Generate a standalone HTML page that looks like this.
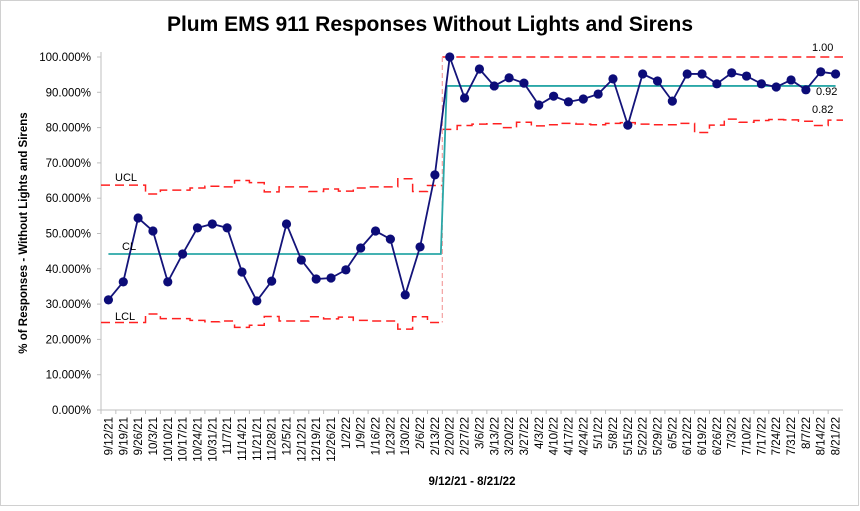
<!DOCTYPE html>
<html><head><meta charset="utf-8"><style>
body{margin:0;background:#fff;font-family:"Liberation Sans",Arial,sans-serif}
svg{display:block}
</style></head><body>
<svg id="chart" width="860" height="511" xmlns="http://www.w3.org/2000/svg">
<rect x="0.5" y="0.5" width="858" height="505" fill="#fff" stroke="#d0d0d0"/>
<text x="430" y="31" text-anchor="middle" font-size="21" font-weight="bold" fill="#000">Plum EMS 911 Responses Without Lights and Sirens</text>
<text transform="translate(27,233) rotate(-90)" text-anchor="middle" font-size="11.5" font-weight="bold">% of Responses - Without Lights and Sirens</text>
<text x="472" y="485" text-anchor="middle" font-size="11.5" font-weight="bold">9/12/21 - 8/21/22</text>
<g id="grid"></g><g id="limits"></g><g id="series"></g><g id="xlabels"></g>
<text x="115" y="181" font-size="11">UCL</text>
<text x="122" y="250" font-size="11">CL</text>
<text x="115" y="320" font-size="11">LCL</text>
<text x="812" y="51" font-size="11">1.00</text>
<text x="816" y="95" font-size="11">0.92</text>
<text x="812" y="113" font-size="11">0.82</text>
</svg>
<script>
const categories=["9/12/21","9/19/21","9/26/21","10/3/21","10/10/21","10/17/21","10/24/21","10/31/21","11/7/21","11/14/21","11/21/21","11/28/21","12/5/21","12/12/21","12/19/21","12/26/21","1/2/22","1/9/22","1/16/22","1/23/22","1/30/22","2/6/22","2/13/22","2/20/22","2/27/22","3/6/22","3/13/22","3/20/22","3/27/22","4/3/22","4/10/22","4/17/22","4/24/22","5/1/22","5/8/22","5/15/22","5/22/22","5/29/22","6/5/22","6/12/22","6/19/22","6/26/22","7/3/22","7/10/22","7/17/22","7/24/22","7/31/22","8/7/22","8/14/22","8/21/22"];
const values=[31.2,36.3,54.4,50.7,36.3,44.2,51.6,52.7,51.6,39.1,30.9,36.5,52.7,42.5,37.1,37.4,39.7,45.9,50.7,48.4,32.6,46.2,66.6,100,88.4,96.6,91.8,94.1,92.6,86.4,88.9,87.3,88.1,89.5,93.8,80.7,95.2,93.2,87.5,95.2,95.2,92.4,95.5,94.6,92.4,91.5,93.5,90.7,95.8,95.2];
const centerLine=[44.2,91.8];
const phaseStart=[0,23];
const ucl=[63.7,63.7,63.7,61.2,62.3,62.3,62.9,63.4,63.2,65.0,64.4,61.8,63.2,63.2,61.9,62.6,62.0,62.9,63.2,63.2,65.5,61.9,63.6,100,100,100,100,100,100,100,100,100,100,100,100,100,100,100,100,100,100,100,100,100,100,100,100,100,100,100];
const lcl=[24.8,24.8,24.8,27.2,25.9,25.9,25.4,25.0,25.2,23.4,24.0,26.5,25.2,25.2,26.4,25.8,26.3,25.4,25.2,25.2,22.9,26.4,24.8,79.5,80.6,81.0,81.1,80.0,81.5,80.5,80.8,81.2,81.0,80.8,81.2,81.4,81.0,80.8,80.8,81.2,78.6,80.7,82.4,81.5,82.0,82.3,82.2,81.8,80.6,82.1];
const yTicks=[0,10,20,30,40,50,60,70,80,90,100];

const NS="http://www.w3.org/2000/svg";
const X0=101,X1=843,Y0=410,Y100=57;
const band=(X1-X0)/categories.length;
const xs=i=>X0+band*(i+0.5);
const ys=v=>Y0-(v/100)*(Y0-Y100);
function mk(tag,attrs,parent){const e=document.createElementNS(NS,tag);for(const k in attrs)e.setAttribute(k,attrs[k]);parent.appendChild(e);return e;}
const grid=document.getElementById('grid'),lim=document.getElementById('limits'),ser=document.getElementById('series'),xl=document.getElementById('xlabels');

let ax=mk('line',{x1:X0,y1:Y100-5,x2:X0,y2:Y0,stroke:'#bfbfbf'},grid);


let bx=mk('line',{x1:X0,y1:Y0,x2:X1,y2:Y0,stroke:'#bfbfbf'},grid);


yTicks.forEach(t=>{
  const tk=mk('line',{x1:X0-4,y1:ys(t),x2:X0,y2:ys(t),stroke:'#bfbfbf'},grid);
  
  
  const tx=mk('text',{x:X0-10,y:ys(t)+4,'text-anchor':'end','font-size':'11.5',fill:'#000'},grid);
  tx.textContent=t.toFixed(3)+'%';
  
  
});
categories.forEach((c,i)=>{
  const tk=mk('line',{x1:X0+band*i,y1:Y0,x2:X0+band*i,y2:Y0+4,stroke:'#bfbfbf'},grid);
  
  
  const tx=mk('text',{transform:`translate(${xs(i)+4},417) rotate(-90)`,'text-anchor':'end','font-size':'11.5',fill:'#000'},xl);
  tx.textContent=c;
  
  
});
function stepPath(arr){
  let d='';
  arr.forEach((v,i)=>{
    const xa=X0+band*i,xb=X0+band*(i+1),y=ys(v);
    if(i===0||i===phaseStart[1])d+=`M${xa},${y}`;else d+=`L${xa},${y}`;
    d+=`L${xb},${y}`;
  });
  return d;
}
let u=mk('path',{d:stepPath(ucl),fill:'none',stroke:'#ff2020','stroke-width':1.5,'stroke-dasharray':'9,5'},lim);


let l=mk('path',{d:stepPath(lcl),fill:'none',stroke:'#ff2020','stroke-width':1.5,'stroke-dasharray':'9,5'},lim);


const bxp=X0+band*phaseStart[1];
let vb=mk('line',{x1:bxp,y1:ys(100),x2:bxp,y2:ys(lcl[phaseStart[1]-1]),stroke:'#f4a0a0','stroke-width':1.2,'stroke-dasharray':'5,3'},lim);


let cl=mk('path',{d:`M${xs(0)},${ys(centerLine[0])}L${xs(phaseStart[1]-1)+band*0.4},${ys(centerLine[0])}L${xs(phaseStart[1]-1)+band*0.8},${ys(centerLine[1])}L${xs(categories.length-1)},${ys(centerLine[1])}`,fill:'none',stroke:'#2aa7a7','stroke-width':1.8},lim);


let pd=values.map((v,i)=>(i?'L':'M')+xs(i)+','+ys(v)).join('');
let sl=mk('path',{d:pd,fill:'none',stroke:'#14147a','stroke-width':1.8},ser);


values.forEach((v,i)=>{
  const c=mk('circle',{cx:xs(i),cy:ys(v),r:4.6,fill:'#0c0c78'},ser);
  
  
});
</script>
</body></html>
